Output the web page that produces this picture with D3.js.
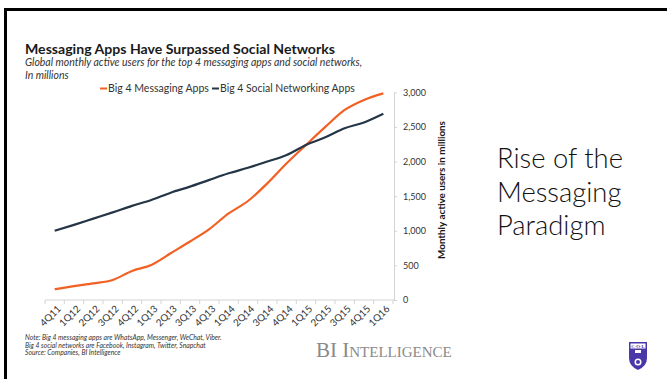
<!DOCTYPE html>
<html>
<head>
<meta charset="utf-8">
<script src="https://cdn.jsdelivr.net/npm/d3@7/dist/d3.min.js"></script>
<style>
  html, body { margin: 0; padding: 0; background: #fff; }
  svg { display: block; }
</style>
</head>
<body>
<svg id="chart" width="667" height="379"></svg>
<script>
// ---- data ----
const quarters = ["4Q11","1Q12","2Q12","3Q12","4Q12","1Q13","2Q13","3Q13","4Q13","1Q14","2Q14","3Q14","4Q14","1Q15","2Q15","3Q15","4Q15","1Q16"];
const messagingApps = [155, 200, 240, 290, 420, 505, 675, 845, 1025, 1250, 1430, 1685, 1975, 2240, 2500, 2745, 2890, 2985];
const socialApps = [1000, 1085, 1175, 1265, 1360, 1445, 1550, 1637, 1735, 1830, 1910, 2000, 2095, 2240, 2350, 2480, 2565, 2690];
const yTicks = [0, 500, 1000, 1500, 2000, 2500, 3000];
const seriesNames = ["Big 4 Messaging Apps", "Big 4 Social Networking Apps"];
const titleText = "Messaging Apps Have Surpassed Social Networks";
const subtitleLines = ["Global monthly active users for the top 4 messaging apps and social networks,", "In millions"];
const noteLines = ["Note: Big 4 messaging apps are WhatsApp, Messenger, WeChat, Viber.", "Big 4 social networks are Facebook, Instagram, Twitter, Snapchat", "Source: Companies, BI Intelligence"];
const yAxisTitle = "Monthly active users in millions";
const slideLines = ["Rise of the", "Messaging", "Paradigm"];

const colors = ["#f26024", "#243546"];
const svg = d3.select("#chart");
const chartFont = "Lato, 'Open Sans', sans-serif";

function fit(sel, w) {
  const l = sel.node().getComputedTextLength();
  const fs = parseFloat(sel.attr("font-size"));
  if (l > 0) sel.attr("font-size", (fs * w / l).toFixed(2));
  return sel;
}

// slide frame (top and left edges)
svg.append("path").attr("d", "M5.5,379 L5.5,9.5 L667,9.5")
  .attr("fill", "none").attr("stroke", "#000").attr("stroke-width", 3);

// ---- scales ----
const xBand = d3.scaleBand().domain(quarters).range([45, 393]).padding(0);
const xPoint = d3.scalePoint().domain(quarters).range([45 + xBand.bandwidth() / 2, 393 - xBand.bandwidth() / 2]);
const y = d3.scaleLinear().domain([0, 3000]).range([300, 92.3]);

// ---- title, subtitle ----
fit(svg.append("text").attr("x", 25).attr("y", 53.5).attr("font-family", chartFont)
  .attr("font-weight", "bold").attr("font-size", 14).attr("fill", "#1a1a1a").text(titleText), 310);
subtitleLines.forEach((t, i) => {
  const s = svg.append("text").attr("x", 25).attr("y", 66 + i * 13).attr("font-family", chartFont)
    .attr("font-style", "italic").attr("font-size", 8.5).attr("fill", "#333").text(t);
  if (i === 0) fit(s, 337);
  else s.attr("font-size", d3.select(s.node().previousSibling).attr("font-size"));
});

// ---- legend ----
const legendX = [100, 212];
const legendW = [101, 135];
seriesNames.forEach((n, i) => {
  svg.append("line").attr("x1", legendX[i]).attr("x2", legendX[i] + 7).attr("y1", 88.5).attr("y2", 88.5)
    .attr("stroke", colors[i]).attr("stroke-width", 2);
  fit(svg.append("text").attr("x", legendX[i] + 8).attr("y", 92).attr("font-family", chartFont)
    .attr("font-size", 8.5).attr("fill", "#333").text(n), legendW[i]);
});

// ---- x axis ----
const xAxisG = svg.append("g").attr("transform", "translate(0,300)");
xAxisG.append("line").attr("x1", 45).attr("x2", 394).attr("stroke", "#d4d4d4").attr("stroke-width", 1);
const bounds = quarters.map(q => xBand(q)).concat([xBand.range()[1]]);
xAxisG.selectAll("line.tk").data(bounds).join("line").attr("class", "tk")
  .attr("x1", d => d).attr("x2", d => d).attr("y1", 0).attr("y2", 4)
  .attr("stroke", "#d4d4d4").attr("stroke-width", 1);
const xAxis = d3.axisBottom(xPoint).tickSize(0).tickSizeOuter(0);
const xg = svg.append("g").attr("transform", "translate(0,300)").call(xAxis);
xg.select(".domain").remove();
xg.selectAll("text")
  .attr("font-family", chartFont).attr("font-size", 9.8).attr("fill", "#333")
  .attr("text-anchor", "end").attr("dy", "0.35em").attr("y", 0)
  .attr("transform", "translate(4,7) rotate(-45)");

// ---- y axis (right) ----
const yAxis = d3.axisRight(y).tickValues(yTicks).tickFormat(d3.format(",")).tickSize(3).tickSizeOuter(0).tickPadding(6);
const yg = svg.append("g").attr("transform", "translate(394,0)").call(yAxis);
yg.select(".domain").attr("stroke", "#d4d4d4");
yg.selectAll(".tick line").attr("stroke", "#d4d4d4");
yg.selectAll("text").attr("font-family", chartFont).attr("font-size", 9).attr("fill", "#333");

fit(svg.append("text").attr("transform", "translate(445,190) rotate(-90)").attr("text-anchor", "middle")
  .attr("font-family", chartFont).attr("font-weight", "bold").attr("font-size", 8.5).attr("fill", "#1a1a1a")
  .text(yAxisTitle), 138);

// ---- lines ----
const line = d3.line().x((d, i) => xPoint(quarters[i])).y(d => y(d)).curve(d3.curveMonotoneX);
[messagingApps, socialApps].forEach((s, i) => {
  svg.append("path").datum(s).attr("d", line).attr("fill", "none")
    .attr("stroke", colors[i]).attr("stroke-width", 2.2).attr("stroke-linejoin", "round");
});

// ---- notes ----
const notes = noteLines.map((t, i) => svg.append("text").attr("x", 25).attr("y", 340 + i * 7.7).attr("font-family", chartFont)
  .attr("font-style", "italic").attr("font-size", 6).attr("fill", "#333").text(t));
fit(notes[0], 197);
notes.slice(1).forEach(s => s.attr("font-size", notes[0].attr("font-size")));

// ---- BI Intelligence ----
fit(svg.append("text").attr("x", 316).attr("y", 357).attr("font-family", "'Liberation Serif', serif")
  .attr("font-size", 16).attr("fill", "#8a8a8a").style("font-variant", "small-caps")
  .text("BI Intelligence"), 132);

// ---- slide text ----
const slideTexts = slideLines.map((t, i) => svg.append("text").attr("x", 497).attr("y", 168 + i * 33.7)
  .attr("font-family", "Lato, 'Open Sans', sans-serif").attr("font-weight", 300)
  .attr("font-size", 27).attr("fill", "#111").text(t));
fit(slideTexts[0], 126);
slideTexts.slice(1).forEach(s => s.attr("font-size", slideTexts[0].attr("font-size")));

// ---- logo (shield) ----
const logo = svg.append("g").attr("transform", "translate(629,342)");
logo.append("path").attr("d", "M0,0 L18,0 L18,16 Q18,24 9,28 Q0,24 0,16 Z").attr("fill", "#4a37a8");
logo.append("rect").attr("x", 1.5).attr("y", 1.5).attr("width", 15).attr("height", 5).attr("fill", "#fff");
logo.append("text").attr("x", 9).attr("y", 5.8).attr("text-anchor", "middle").attr("font-family", "'Liberation Serif', serif")
  .attr("font-size", 4.8).attr("font-weight", "bold").attr("fill", "#4a37a8").text("C·O·L");
logo.append("rect").attr("x", 6).attr("y", 8).attr("width", 6).attr("height", 3).attr("fill", "#fff");
logo.append("circle").attr("cx", 9).attr("cy", 20).attr("r", 3.5).attr("fill", "#fff");
logo.append("circle").attr("cx", 9).attr("cy", 20).attr("r", 2).attr("fill", "#4a37a8");
</script>
</body>
</html>
